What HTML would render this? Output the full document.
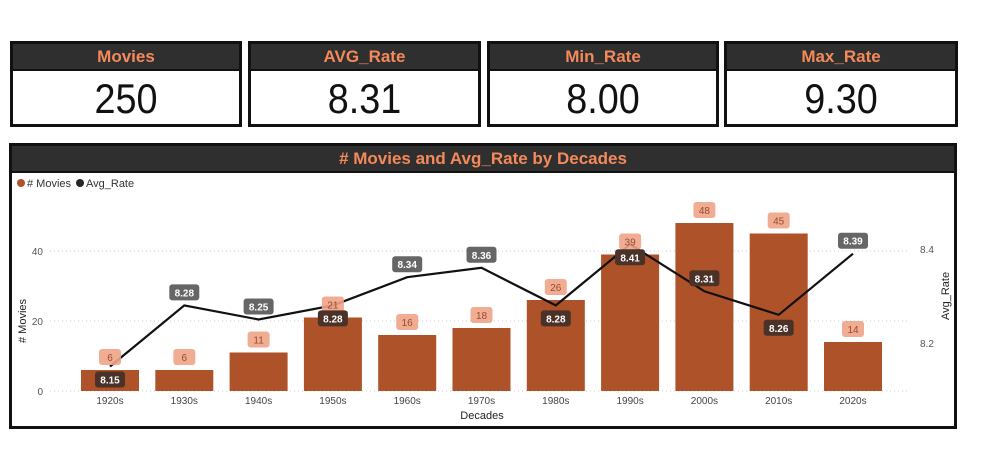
<!DOCTYPE html>
<html><head><meta charset="utf-8"><style>
body{margin:0;width:1000px;height:462px;background:#fff;position:relative;overflow:hidden;font-family:"Liberation Sans",sans-serif}
.card{position:absolute;top:41px;height:80px;border:3px solid #111;background:#fff}
.card .hd{height:25px;background:#2f2f2f;color:#f4895a;font-weight:bold;font-size:17px;text-align:center;line-height:25px;border-bottom:2px solid #111}
.card .val{text-align:center;font-size:42px;line-height:56px;color:#111;transform:scaleX(.9)}
#panel{position:absolute;left:9px;top:143px;width:942px;height:280px;border:3px solid #111;background:#fff}
#panel .hd{height:25px;background:#2f2f2f;color:#f4895a;font-weight:bold;font-size:17px;text-align:center;line-height:25px;border-bottom:2px solid #111}
svg{position:absolute;left:0;top:0}
</style></head><body>
<div class="card" style="left:10px;width:226px"><div class="hd">Movies</div><div class="val">250</div></div>
<div class="card" style="left:248px;width:227px"><div class="hd">AVG_Rate</div><div class="val">8.31</div></div>
<div class="card" style="left:487px;width:226px"><div class="hd">Min_Rate</div><div class="val">8.00</div></div>
<div class="card" style="left:724px;width:228px"><div class="hd">Max_Rate</div><div class="val">9.30</div></div>
<div id="panel"><div class="hd"># Movies and Avg_Rate by Decades</div></div>
<svg id="chart" width="1000" height="462" font-family="Liberation Sans, sans-serif"></svg>
<script>
const categories=["1920s","1930s","1940s","1950s","1960s","1970s","1980s","1990s","2000s","2010s","2020s"];
const movies=[6,6,11,21,16,18,26,39,48,45,14];
const rates=[8.15,8.28,8.25,8.28,8.34,8.36,8.28,8.41,8.31,8.26,8.39];
const leftTicks=[0,20,40];
const rightTicks=[8.2,8.4];
const labelAbove=[false,true,true,false,true,true,false,false,true,false,true];
const NS="http://www.w3.org/2000/svg";
const svg=document.getElementById('chart');
function el(t,a,p){const e=document.createElementNS(NS,t);for(const k in a)e.setAttribute(k,a[k]);(p||svg).appendChild(e);return e;}
const x=i=>110+i*74.3;
const yL=v=>391-v*3.5;
const yR=v=>343-(v-8.2)*470;
let g=el('g',{});
let c=el('circle',{cx:21,cy:183,r:4,fill:'#b0522a'},g);
let t=el('text',{x:27,y:187,'font-size':11,fill:'#333'},g);t.textContent='# Movies';
c=el('circle',{cx:80,cy:183,r:4,fill:'#252525'},g);
t=el('text',{x:86,y:187,'font-size':11,fill:'#333'},g);t.textContent='Avg_Rate';
leftTicks.forEach(v=>{
  const l=el('line',{x1:50,x2:910,y1:yL(v),y2:yL(v),stroke:'#ccc','stroke-dasharray':'1 3'});
  
  const tt=el('text',{x:43,y:yL(v)+4,'font-size':10,fill:'#555','text-anchor':'end'});tt.textContent=v;
  
});
rightTicks.forEach(v=>{
  const tt=el('text',{x:920,y:yR(v)+4,'font-size':10,fill:'#555'});tt.textContent=v.toFixed(1);
  
});
t=el('text',{x:0,y:0,'font-size':11,fill:'#222','text-anchor':'middle',transform:'translate(26,321) rotate(-90)'});t.textContent='# Movies';

t=el('text',{x:0,y:0,'font-size':11,fill:'#222','text-anchor':'middle',transform:'translate(949,296) rotate(-90)'});t.textContent='Avg_Rate';

t=el('text',{x:482,y:419,'font-size':11,fill:'#222','text-anchor':'middle'});t.textContent='Decades';

categories.forEach((cat,i)=>{
  const r=el('rect',{x:x(i)-29,y:yL(movies[i]),width:58,height:yL(0)-yL(movies[i]),fill:'#ae5229'});
  
  const tt=el('text',{x:x(i),y:404,'font-size':10,fill:'#444','text-anchor':'middle'});tt.textContent=cat;
  
});
const pts=rates.map((v,i)=>x(i)+','+yR(v)).join(' ');
const pl=el('polyline',{points:pts,fill:'none',stroke:'#111','stroke-width':2.2});

movies.forEach((v,i)=>{
  const cy=yL(v)-13;
  const r=el('rect',{x:x(i)-11,y:cy-8,width:22,height:16,rx:3,fill:'#f0a487',opacity:0.9});
  
  const tt=el('text',{x:x(i),y:cy+4,'font-size':10,fill:'#9a4a2a','text-anchor':'middle'});tt.textContent=v;
  
});
rates.forEach((v,i)=>{
  const py=yR(v);
  const cy=labelAbove[i]?py-13:py+13;
  const inside=cy>yL(movies[i]);
  const r=el('rect',{x:x(i)-15,y:cy-8,width:30,height:16,rx:3,fill:inside?'#4b3229':'#666'});
  
  const tt=el('text',{x:x(i),y:cy+4,'font-size':10,'font-weight':'bold',fill:'#fff','text-anchor':'middle'});tt.textContent=v.toFixed(2);
  
});
</script>
</body></html>
